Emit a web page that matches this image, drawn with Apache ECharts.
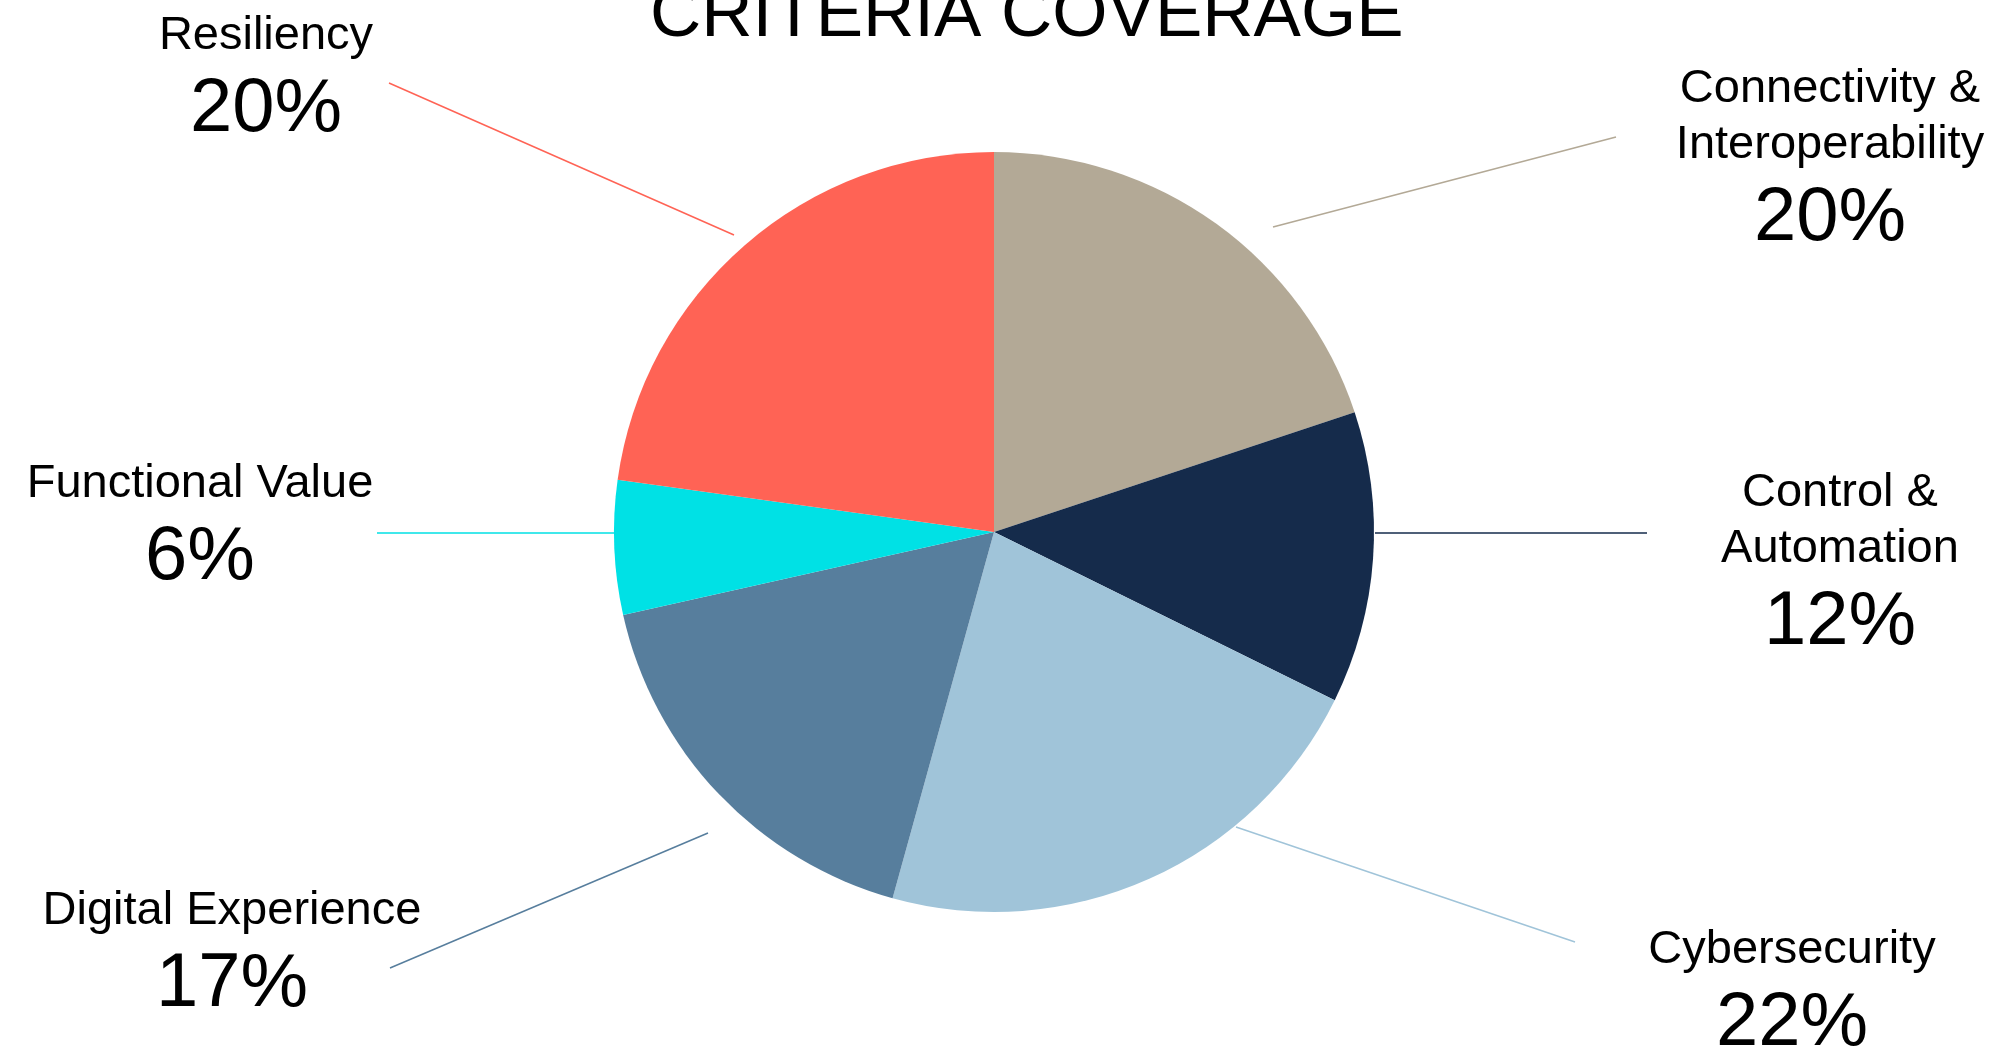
<!DOCTYPE html>
<html>
<head>
<meta charset="utf-8">
<script src="https://cdn.jsdelivr.net/npm/echarts@6/dist/echarts.min.js"></script>
<style>
  html, body { margin: 0; padding: 0; background: #ffffff; }
  #chart { width: 1998px; height: 1052px; }
</style>
</head>
<body>
<div id="chart"></div>
<script>
// ---- data ----
const titleText = 'CRITERIA COVERAGE';
const categories = [
  'Connectivity &\nInteroperability',
  'Control &\nAutomation',
  'Cybersecurity',
  'Digital Experience',
  'Functional Value',
  'Resiliency'
];
// slice shares as drawn (angle of each slice)
const sliceValues = [19.9, 12.4, 22.0, 17.2, 5.7, 22.8];
// percentages printed on the labels
const percentLabels = ['20%', '12%', '22%', '17%', '6%', '20%'];

// ---- styles / layout (not data) ----
const sliceColors = ['#b3a996', '#152b4b', '#a0c4d9', '#577e9d', '#00e1e5', '#ff6355'];
const FONT = "'Liberation Sans', Arial, Helvetica, sans-serif";
// label block anchor (center x, top y) and leader line (start, end) per slice
const labelPlacement = [
  { x: 1830, y: 61,  line: [[1273, 227], [1616, 137]] },
  { x: 1840, y: 465, line: [[1375, 533], [1647, 533]] },
  { x: 1792, y: 922, line: [[1236, 827], [1575, 942]] },
  { x: 232,  y: 883, line: [[708, 833],  [390, 968]] },
  { x: 200,  y: 456, line: [[620, 533],  [377, 533]] },
  { x: 266,  y: 8,   line: [[734, 235],  [389, 83]] }
];

const chart = echarts.init(document.getElementById('chart'), null, { renderer: 'canvas' });

const seriesData = categories.map((name, i) => ({
  name: name,
  value: sliceValues[i],
  itemStyle: { color: sliceColors[i] },
  labelLine: { lineStyle: { color: sliceColors[i] } }
}));

chart.setOption({
  animation: false,
  backgroundColor: '#ffffff',
  title: {
    text: titleText,
    left: 650,
    top: -19,
    padding: 0,
    textStyle: { fontFamily: FONT, fontSize: 71, fontWeight: 'normal', color: '#000000', lineHeight: 71 }
  },
  series: [{
    type: 'pie',
    center: [994, 532],
    radius: 380,
    startAngle: 90,
    clockwise: true,
    avoidLabelOverlap: false,
    silent: true,
    emphasis: { disabled: true },
    label: {
      show: true,
      position: 'outside',
      formatter: function (p) {
        const lines = p.name.split('\n').map(s => '{n|' + s + '}');
        return lines.join('\n') + '\n{p|' + percentLabels[p.dataIndex] + '}';
      },
      rich: {
        n: { fontFamily: FONT, fontSize: 47, lineHeight: 56, color: '#000000', align: 'center' },
        p: { fontFamily: FONT, fontSize: 76, lineHeight: 92, color: '#000000', align: 'center' }
      }
    },
    labelLine: { show: true, length: 10, length2: 10, smooth: false, lineStyle: { width: 1.5 } },
    labelLayout: function (params) {
      const L = labelPlacement[params.dataIndex];
      const a = L.line[0], b = L.line[1];
      return {
        x: L.x,
        y: L.y,
        align: 'center',
        verticalAlign: 'top',
        labelLinePoints: [a, [(a[0] + b[0]) / 2, (a[1] + b[1]) / 2], b]
      };
    },
    data: seriesData
  }]
});
</script>
</body>
</html>
